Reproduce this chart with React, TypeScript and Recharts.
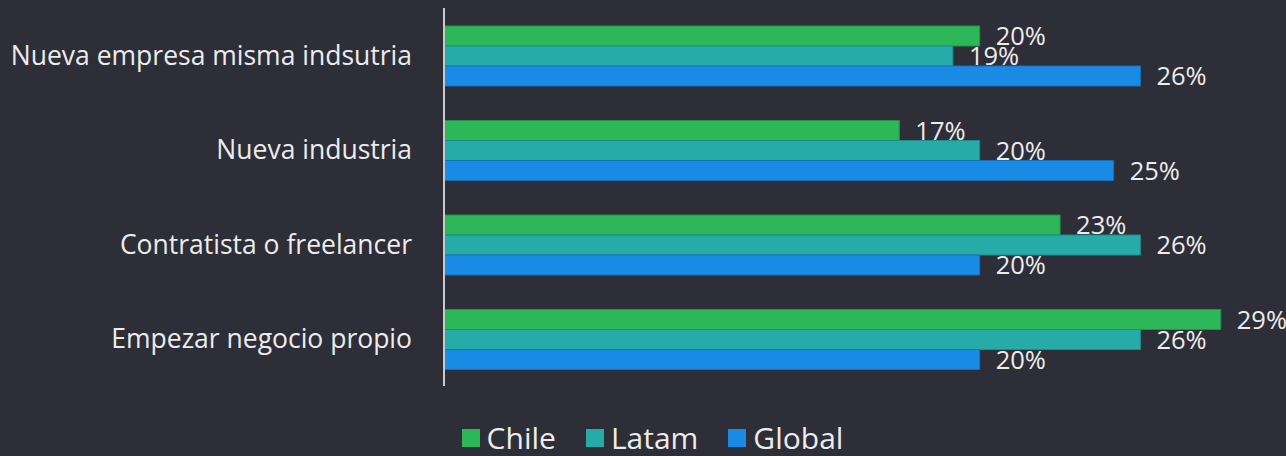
import { Bar, BarChart, LabelList, Legend, XAxis, YAxis } from 'recharts';

const categories = [
  'Nueva empresa misma indsutria',
  'Nueva industria',
  'Contratista o freelancer',
  'Empezar negocio propio',
];
const chile = [20, 17, 23, 29];
const latam = [19, 20, 26, 26];
const global = [26, 25, 20, 20];

const series = [
  { key: 'chile', name: 'Chile', color: '#2eb758', stroke: '#23914a' },
  { key: 'latam', name: 'Latam', color: '#27aba8', stroke: '#1f8a8a' },
  { key: 'global', name: 'Global', color: '#1a8be4', stroke: '#1670b8' },
];

const data = categories.map((name, i) => ({
  name,
  chile: chile[i],
  latam: latam[i],
  global: global[i],
}));

const BG = '#2e2e38';
const TEXT = '#ececec';
const FONT = '"Open Sans", "Noto Sans", sans-serif';

// legend drawn in series order (Chile, Latam, Global)
function LegendContent() {
  return (
    <div style={{ display: 'flex', justifyContent: 'center', gap: 30, fontFamily: FONT, paddingLeft: 36 }}>
      {series.map((s) => (
        <div key={s.key} style={{ display: 'flex', alignItems: 'center', gap: 7 }}>
          <span style={{ width: 18, height: 18, background: s.color, display: 'inline-block' }} />
          <span style={{ color: TEXT, fontSize: 30, lineHeight: '36px' }}>{s.name}</span>
        </div>
      ))}
    </div>
  );
}

export default function App() {
  return (
    <div style={{ width: 1286, height: 456, background: BG }}>
      <style>{`body{margin:0;background:${BG}}`}</style>
      <BarChart
        width={1286}
        height={456}
        data={data}
        layout="vertical"
        margin={{ top: 8, right: 17, left: 0, bottom: 34 }}
        barCategoryGap={18}
        barGap={0}
      >
        <XAxis type="number" domain={[0, 30.8]} hide />
        <YAxis
          type="category"
          dataKey="name"
          width={444}
          axisLine={{ stroke: '#c9c9cc', strokeWidth: 2 }}
          tickLine={false}
          tickMargin={26}
          tick={{ fill: TEXT, fontSize: 26.5, fontFamily: FONT }}
        />
        <Legend verticalAlign="bottom" content={<LegendContent />} wrapperStyle={{ bottom: 0 }} />
        {series.map((s) => (
          <Bar
            key={s.key}
            dataKey={s.key}
            name={s.name}
            fill={s.color}
            stroke={s.stroke}
            strokeWidth={1}
            isAnimationActive={false}
          >
            <LabelList
              dataKey={s.key}
              position="right"
              offset={16}
              formatter={(v: any) => `${v}%`}
              style={{ fill: TEXT, fontSize: 25.5, fontFamily: FONT }}
            />
          </Bar>
        ))}
      </BarChart>
    </div>
  );
}
